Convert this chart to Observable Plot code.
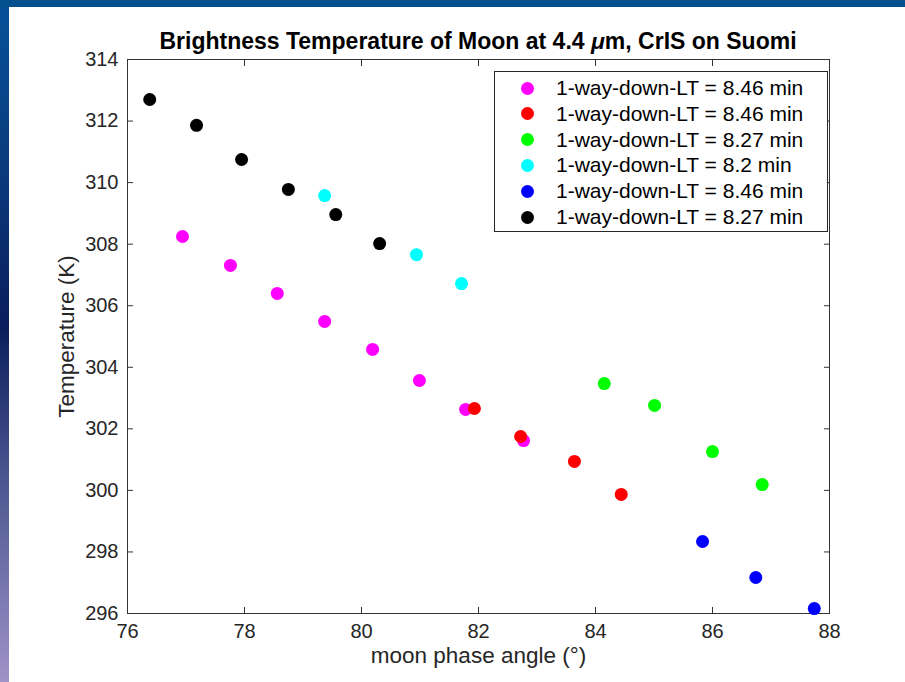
<!DOCTYPE html>
<html><head><meta charset="utf-8">
<script src="https://cdn.jsdelivr.net/npm/d3@7"></script>
<script src="https://cdn.jsdelivr.net/npm/@observablehq/plot@0.6"></script>
<style>
body{margin:0;}
#page{position:relative;width:905px;height:682px;background:linear-gradient(to bottom,#06519a 0%,#0a3a7c 25%,#0a1d5c 48%,#4a5690 70%,#9f92c8 100%);overflow:hidden;font-family:"Liberation Sans",Arial,sans-serif;}
#topband{position:absolute;left:0;top:0;width:905px;height:7px;background:#03508f;}
#panel{position:absolute;left:9px;top:7px;right:0;bottom:0;background:#fff;}
#chart{position:absolute;left:0;top:0;}
#title{position:absolute;left:127px;width:702px;top:28px;text-align:center;font-weight:bold;font-size:23px;line-height:26px;color:#000;white-space:nowrap;}
#legend{position:absolute;left:494px;top:71px;width:334px;height:161px;border:1px solid #262626;background:#fff;box-sizing:border-box;}
.item{position:absolute;left:0;height:26px;line-height:26px;font-size:21px;color:#000;white-space:nowrap;}
.mk{position:absolute;width:13px;height:13px;border-radius:50%;}
</style>
</head><body>
<div id="page"><div id="topband"></div><div id="panel"></div><div id="chart"></div>
<div id="title">Brightness Temperature of Moon at 4.4 <i>μ</i>m, CrIS on Suomi</div>
<div id="legend"></div></div>
<script>
const seriesNames = ["1-way-down-LT = 8.46 min","1-way-down-LT = 8.46 min","1-way-down-LT = 8.27 min","1-way-down-LT = 8.2 min","1-way-down-LT = 8.46 min","1-way-down-LT = 8.27 min"];
const seriesColors = ["#ff00ff","#ff0000","#00ff00","#00ffff","#0000ff","#000000"];

const magentaAngle = [76.94,77.76,78.56,79.37,80.19,80.99,81.78,82.77];
const magentaTemp  = [308.25,307.31,306.40,305.49,304.58,303.57,302.63,301.62];
const redAngle = [81.93,82.72,83.64,84.44];
const redTemp  = [302.66,301.75,300.94,299.87];
const greenAngle = [84.15,85.01,86.00,86.85];
const greenTemp  = [303.47,302.76,301.26,300.19];
const cyanAngle = [79.37,80.94,81.71];
const cyanTemp  = [309.58,307.66,306.72];
const blueAngle = [85.83,86.74,87.74];
const blueTemp  = [298.34,297.17,296.16];
const blackAngle = [76.38,77.18,77.95,78.75,79.56,80.31];
const blackTemp  = [312.70,311.86,310.75,309.78,308.96,308.02];

const xTicks = [76,78,80,82,84,86,88];
const yTicks = [296,298,300,302,304,306,308,310,312,314];
const xLabel = "moon phase angle (°)";
const yLabel = "Temperature (K)";

const allAngles = [magentaAngle,redAngle,greenAngle,cyanAngle,blueAngle,blackAngle];
const allTemps = [magentaTemp,redTemp,greenTemp,cyanTemp,blueTemp,blackTemp];
const rows = [];
allAngles.forEach((a,s)=>a.forEach((v,i)=>rows.push({angle:v,temp:allTemps[s][i],color:seriesColors[s]})));

const chart = Plot.plot({
  width:905, height:682,
  marginLeft:127, marginRight:76, marginTop:59, marginBottom:69,
  style:{background:"transparent", fontFamily:"'Liberation Sans', Arial, sans-serif", fontSize:"20px", color:"#262626"},
  x:{domain:[76,88]}, y:{domain:[296,314]},
  color:{type:"identity"},
  marks:[
    Plot.frame({stroke:"#333", strokeWidth:1}),
    Plot.axisX(xTicks,{anchor:"bottom", tickSize:-6, tickFormat:()=>"", label:null, stroke:"#333"}),
    Plot.axisX(xTicks,{anchor:"top", tickSize:-6, tickFormat:()=>"", label:null, stroke:"#333"}),
    Plot.axisX(xTicks,{anchor:"bottom", tickSize:0, tickPadding:10, label:null, fill:"#262626"}),
    Plot.axisY(yTicks,{anchor:"left", tickSize:-6, tickFormat:()=>"", label:null, stroke:"#333"}),
    Plot.axisY(yTicks,{anchor:"right", tickSize:-6, tickFormat:()=>"", label:null, stroke:"#333"}),
    Plot.axisY(yTicks,{anchor:"left", tickSize:0, tickPadding:9, label:null, fill:"#262626"}),
    Plot.dot(rows,{x:"angle", y:"temp", fill:"color", r:6.5}),
    Plot.text([xLabel],{frameAnchor:"bottom", dy:49, fontSize:22.5, fill:"#262626"}),
    Plot.text([yLabel],{frameAnchor:"left", textAnchor:"middle", dx:-61, rotate:-90, fontSize:22.5, fill:"#262626"})
  ]
});
document.getElementById("chart").appendChild(chart);

const leg = document.getElementById("legend");
seriesNames.forEach((n,i)=>{
  const it = document.createElement("div");
  it.className="item";
  it.style.top = (3 + i*25.8) + "px";
  const mk = document.createElement("span");
  mk.className="mk"; mk.style.background=seriesColors[i];
  mk.style.left="26px"; mk.style.top="6.5px";
  it.appendChild(mk);
  const tx = document.createElement("span");
  tx.style.position="absolute"; tx.style.left="61px"; tx.textContent=n;
  it.appendChild(tx);
  leg.appendChild(it);
});
</script>
</body></html>
